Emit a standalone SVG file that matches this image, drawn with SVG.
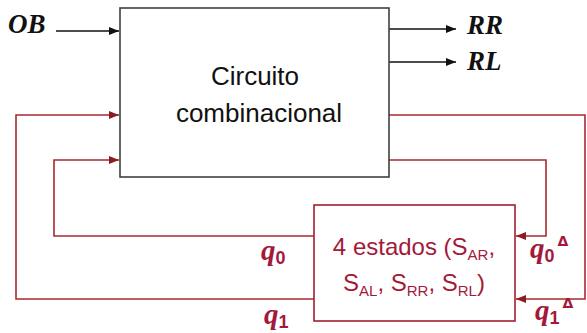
<svg xmlns="http://www.w3.org/2000/svg" width="587" height="333" viewBox="0 0 587 333">
<defs>
<style>
.box{fill:#fff;stroke:#404040;stroke-width:1.6}
.sbox{fill:#fff;stroke:#A02030;stroke-width:1.6}
.blk{fill:none;stroke:#111;stroke-width:1.6}
.red{fill:none;stroke:#A82A30;stroke-width:1.6}
.lbl{font-family:"Liberation Sans",Arial,sans-serif;font-size:26px;fill:#111;text-anchor:middle}
.st{font-family:"Liberation Sans",Arial,sans-serif;font-size:24px;fill:#A3193A;text-anchor:middle}
.math{font-family:"Liberation Serif","Times New Roman",serif;font-style:italic;font-weight:bold;font-size:27px;fill:#111}
.q{font-family:"Liberation Serif","Times New Roman",serif;font-style:italic;font-weight:bold;font-size:29px;fill:#A3193A}
.qs{font-family:"Liberation Sans",Arial,sans-serif;font-style:normal;font-weight:bold;font-size:18px}
.tri{font-family:"DejaVu Sans",sans-serif;font-style:normal;font-weight:bold;font-size:14px}
</style>
<marker id="ab" viewBox="0 0 10 8" refX="10" refY="4" markerWidth="10" markerHeight="8" markerUnits="userSpaceOnUse" orient="auto"><path d="M0,0 L10,4 L0,8 z" fill="#111"/></marker>
<marker id="ar" viewBox="0 0 10 8" refX="10" refY="4" markerWidth="10" markerHeight="8" markerUnits="userSpaceOnUse" orient="auto"><path d="M0,0 L10,4 L0,8 z" fill="#8E1A22"/></marker>
</defs>
<g id="connectors">
<path class="blk" d="M56,31 H119" marker-end="url(#ab)"/>
<path class="blk" d="M389,29 H456" marker-end="url(#ab)"/>
<path class="blk" d="M389,62 H456" marker-end="url(#ab)"/>
<path class="red" d="M389,115 H585 V299 H516" marker-end="url(#ar)"/>
<path class="red" d="M389,160 H546 V236 H516" marker-end="url(#ar)"/>
<path class="red" d="M314,236 H54 V160 H119" marker-end="url(#ar)"/>
<path class="red" d="M314,299 H16 V115 H119" marker-end="url(#ar)"/>
</g>
<g id="circuito">
<rect class="box" x="120" y="8" width="269" height="169"/>
<text class="lbl" x="255" y="85">Circuito</text>
<text class="lbl" x="259" y="122">combinacional</text>
</g>
<g id="estados">
<rect class="sbox" x="314" y="205" width="201" height="116"/>
<text class="st" x="414" y="255">4 estados (S<tspan font-size="15" dy="5">AR</tspan><tspan dy="-5">,</tspan></text>
<text class="st" x="414" y="291">S<tspan font-size="15" dy="5">AL</tspan><tspan dy="-5">, S</tspan><tspan font-size="15" dy="5">RR</tspan><tspan dy="-5">, S</tspan><tspan font-size="15" dy="5">RL</tspan><tspan dy="-5">)</tspan></text>
</g>
<g id="labels">
<text class="math" x="8" y="33">OB</text>
<text class="math" x="467" y="34">RR</text>
<text class="math" x="467" y="70">RL</text>
<text class="q" x="261" y="260">q<tspan class="qs" dy="4">0</tspan></text>
<text class="q" x="264" y="324">q<tspan class="qs" dy="4">1</tspan></text>
<text class="q" x="530" y="258">q<tspan class="qs" dy="4">0</tspan><tspan class="tri" dy="-16" dx="3">Δ</tspan></text>
<text class="q" x="535" y="320">q<tspan class="qs" dy="4">1</tspan><tspan class="tri" dy="-16" dx="3">Δ</tspan></text>
</g>
</svg>
